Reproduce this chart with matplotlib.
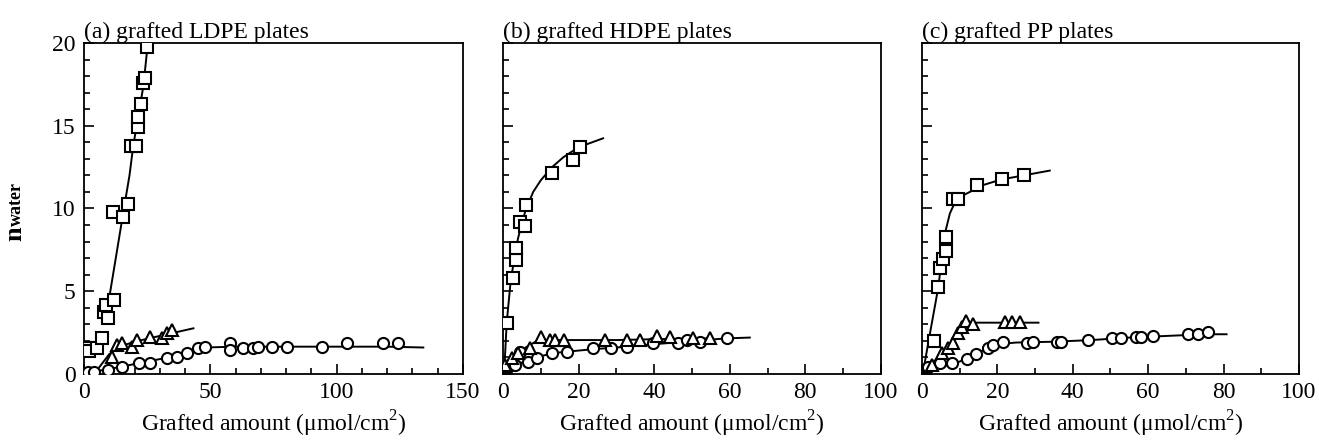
import matplotlib
matplotlib.use("Agg")
import matplotlib.pyplot as plt
from matplotlib.ticker import MultipleLocator

plt.rcParams['font.family'] = ['Liberation Serif', 'DejaVu Serif']
plt.rcParams['mathtext.fontset'] = 'custom'
plt.rcParams['mathtext.rm'] = 'Liberation Serif'
plt.rcParams['mathtext.bf'] = 'Liberation Serif:bold'

# (a) grafted LDPE plates
a_sq_x = [1.6, 2.1, 5.0, 7.0, 7.9, 8.7, 9.6, 12.0, 11.6, 15.6, 17.3, 18.6, 20.6, 21.5, 21.5, 22.4, 23.5, 24.1, 24.8]
a_sq_y = [1.6, 1.4, 1.55, 2.2, 3.77, 4.17, 3.4, 4.47, 9.8, 9.5, 10.3, 13.8, 13.8, 14.9, 15.55, 16.3, 17.6, 17.9, 19.78]
a_sq_fit_x = [10.3, 13.0, 15.8, 18.0, 19.5, 21.5, 23.5, 25.2]
a_sq_fit_y = [4.9, 7.4, 10.0, 12.0, 13.8, 15.6, 17.4, 19.9]
a_tr_x = [10.9, 12.9, 14.9, 18.9, 20.8, 26.1, 30.7, 32.7, 34.7]
a_tr_y = [1.05, 1.75, 1.85, 1.65, 2.05, 2.25, 2.15, 2.45, 2.66]
a_tr_fit_x = [6, 10, 15, 20, 30, 43.3]
a_tr_fit_y = [0.4, 1.2, 1.7, 1.95, 2.3, 2.76]
a_ci_x = [1.5, 3.96, 9.6, 14.9, 21.9, 26.1, 32.7, 36.7, 40.6, 45.2, 47.9, 57.8, 57.8, 63.0, 67.0, 69.0,
          74.3, 80.2, 94.1, 104.0, 118.5, 124.4]
a_ci_y = [0.1, 0.12, 0.24, 0.44, 0.64, 0.64, 0.95, 1.05, 1.25, 1.55, 1.61, 1.85, 1.45, 1.55, 1.55, 1.65,
          1.65, 1.65, 1.65, 1.85, 1.85, 1.85]
a_ci_fit_x = [2, 10, 20, 30, 40, 48, 60, 80, 100, 120, 134.3]
a_ci_fit_y = [0.1, 0.3, 0.6, 0.9, 1.25, 1.6, 1.65, 1.65, 1.65, 1.65, 1.6]

# (b) grafted HDPE plates
b_sq_x = [0.97, 2.72, 3.44, 3.44, 4.5, 5.8, 6.08, 12.9, 18.6, 20.4]
b_sq_y = [3.06, 5.78, 6.89, 7.59, 9.2, 8.94, 10.2, 12.13, 12.9, 13.7]
b_sq_fit_x = [0.3, 1, 2, 3, 4, 5, 6, 8, 10, 13, 16, 20, 26.5]
b_sq_fit_y = [0.0, 3.1, 5.5, 7.0, 8.2, 9.1, 9.9, 11.0, 11.7, 12.5, 13.1, 13.7, 14.24]
b_tr_x = [0.53, 2.3, 4.05, 7.1, 10.2, 12.4, 13.8, 16.1, 27.0, 32.7, 36.2, 40.7, 44.2, 50.3, 54.8]
b_tr_y = [0.54, 0.95, 1.25, 1.55, 2.26, 2.05, 2.05, 2.05, 2.05, 2.05, 2.05, 2.3, 2.26, 2.15, 2.15]
b_tr_fit_x = [0.3, 3, 6, 9, 12, 20, 30, 40, 55]
b_tr_fit_y = [0.1, 1.0, 1.6, 2.0, 2.05, 2.05, 2.05, 2.1, 2.15]
b_ci_x = [1.4, 3.2, 4.5, 6.7, 8.9, 12.9, 16.9, 23.9, 28.5, 32.7, 39.8, 46.4, 48.6, 52.1, 59.2]
b_ci_y = [0.4, 0.54, 1.35, 0.74, 0.95, 1.25, 1.35, 1.55, 1.55, 1.65, 1.85, 1.85, 2.05, 1.95, 2.15]
b_ci_fit_x = [0.3, 4, 8, 13, 17, 24, 33, 40, 48, 59, 65.3]
b_ci_fit_y = [0.1, 0.6, 0.95, 1.25, 1.35, 1.5, 1.65, 1.8, 1.95, 2.15, 2.2]

# (c) grafted PP plates
c_sq_x = [3.27, 4.33, 4.77, 5.5, 6.37, 6.37, 8.3, 9.6, 14.5, 21.1, 27.1]
c_sq_y = [2.01, 5.24, 6.39, 6.93, 7.45, 8.26, 10.6, 10.6, 11.42, 11.76, 12.02]
c_sq_fit_x = [0.2, 2, 4.3, 6.1, 7.4, 9.2, 12.7, 16, 21, 27, 33.9]
c_sq_fit_y = [0.0, 2.3, 5.2, 8.5, 9.7, 10.6, 11.0, 11.4, 11.75, 12.0, 12.29]
c_tr_x = [2.6, 5.2, 7.0, 8.3, 9.6, 10.5, 11.8, 13.6, 22.0, 23.8, 26.0]
c_tr_y = [0.54, 1.25, 1.55, 1.85, 2.46, 2.86, 3.22, 3.02, 3.12, 3.12, 3.12]
c_tr_fit_x = [0.3, 3, 6, 9, 11, 13, 20, 30.9]
c_tr_fit_y = [0.1, 0.7, 1.4, 2.3, 2.9, 3.1, 3.1, 3.1]
c_ci_x = [1.7, 4.8, 7.9, 11.9, 14.3, 17.6, 18.9, 21.4, 27.8, 29.5, 35.7, 37.0, 44.1, 50.3, 52.9, 56.9,
          58.2, 61.3, 70.6, 73.3, 75.8]
c_ci_y = [0.44, 0.64, 0.64, 0.89, 1.2, 1.55, 1.75, 1.95, 1.85, 1.95, 1.95, 1.95, 2.08, 2.16, 2.16, 2.26,
          2.26, 2.3, 2.4, 2.4, 2.53]
c_ci_fit_x = [0.3, 5, 10, 15, 20, 25, 35, 45, 55, 65, 75, 80.8]
c_ci_fit_y = [0.1, 0.4, 0.75, 1.3, 1.8, 1.9, 1.95, 2.05, 2.2, 2.3, 2.4, 2.4]

panels = [
    ("(a) grafted LDPE plates", 150, 50,
     (a_sq_x, a_sq_y, a_sq_fit_x, a_sq_fit_y),
     (a_tr_x, a_tr_y, a_tr_fit_x, a_tr_fit_y),
     (a_ci_x, a_ci_y, a_ci_fit_x, a_ci_fit_y)),
    ("(b) grafted HDPE plates", 100, 20,
     (b_sq_x, b_sq_y, b_sq_fit_x, b_sq_fit_y),
     (b_tr_x, b_tr_y, b_tr_fit_x, b_tr_fit_y),
     (b_ci_x, b_ci_y, b_ci_fit_x, b_ci_fit_y)),
    ("(c) grafted PP plates", 100, 20,
     (c_sq_x, c_sq_y, c_sq_fit_x, c_sq_fit_y),
     (c_tr_x, c_tr_y, c_tr_fit_x, c_tr_fit_y),
     (c_ci_x, c_ci_y, c_ci_fit_x, c_ci_fit_y)),
]

fig = plt.figure(figsize=(13.19, 4.44), dpi=100)
lefts = [0.0637, 0.3813, 0.699]
widths = [0.2873, 0.2866, 0.2858]

for i, (title, xmax, xmaj, sq, tr, ci) in enumerate(panels):
    ax = fig.add_axes([lefts[i], 0.1577, widths[i], 0.7455])
    for (x, y, fx, fy), m, ms in [(ci, 'o', 8.0), (tr, '^', 8.6), (sq, 's', 9.0)]:
        ax.plot(fx, fy, color='black', lw=1.4, zorder=2)
        ax.plot(x, y, linestyle='none', marker=m, ms=ms, mfc='white', mec='black', mew=1.5, zorder=3)
    ax.set_xlim(0, xmax)
    ax.set_ylim(0, 20)
    ax.xaxis.set_major_locator(MultipleLocator(xmaj))
    ax.xaxis.set_minor_locator(MultipleLocator(10))
    ax.yaxis.set_major_locator(MultipleLocator(5))
    ax.yaxis.set_minor_locator(MultipleLocator(1))
    ax.tick_params(which='both', direction='in', width=1.2, labelsize=17, pad=6)
    ax.tick_params(which='major', length=7)
    ax.tick_params(which='minor', length=4.5)
    for s in ax.spines.values():
        s.set_linewidth(1.3)
    if i > 0:
        ax.set_yticklabels([])
    ax.set_xlabel(r'Grafted amount ($\mathrm{\mu}$mol/cm$^{2}$)', fontsize=17, labelpad=4)
    ax.set_title(title, loc='left', fontsize=17, pad=3)

# y label: bold "n" followed by smaller "water" on the same baseline
fig.text(0.0162, 0.473, 'n', rotation=90, rotation_mode='anchor',
         ha='center', va='baseline', fontsize=19, fontweight='bold')
fig.text(0.0162, 0.541, 'water', rotation=90, rotation_mode='anchor',
         ha='center', va='baseline', fontsize=13, fontweight='bold')

fig.savefig('out.png', dpi=100)
